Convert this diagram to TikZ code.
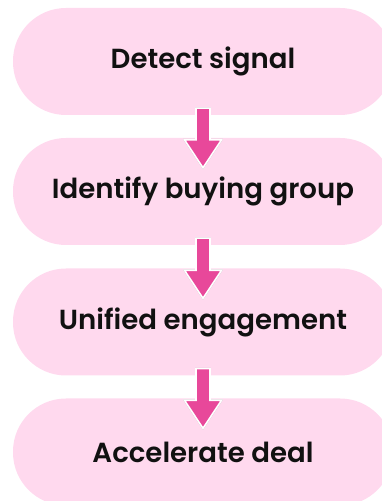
\documentclass[tikz,border=0pt]{standalone}
\usepackage{fontspec}
\newfontfamily\labelfont{Poppins}[UprightFont=* SemiBold]
\usetikzlibrary{calc}
\definecolor{stagefill}{HTML}{FFD9EE}
\definecolor{arrowpink}{HTML}{E8489A}
\definecolor{labelink}{HTML}{111111}
\tikzset{
  stage/.style={fill=stagefill, rounded corners=53pt, minimum width=380pt,
    minimum height=107pt, inner sep=0pt, font=\labelfont\fontsize{27.6}{31}\selectfont,
    text=labelink},
}
% block arrow from point #1 (top of shaft) to #2 (tip), with a grey shadow
\newcommand\blockarrow[2]{%
  \path let \p1=(#1), \p2=(#2) in
    coordinate (ta) at (\x1,\y1) coordinate (tb) at (\x2,\y2);
  \foreach \sx/\sy/\col/\lw in {-2/-1.8/black!32/1.6pt, 0/0/arrowpink/0pt}{
    \begin{scope}[shift={(\sx pt,\sy pt)}]
      \filldraw[fill=\col, draw=\ifdim\lw>0pt \col\else white\fi, line width=1.6pt, line join=miter]
        ($(ta)+(-7pt,0)$) -- ($(ta)+(7pt,0)$) -- ($(tb)+(7pt,28pt)$) -- ($(tb)+(18.5pt,28pt)$)
        -- (tb) -- ($(tb)+(-18.5pt,28pt)$) -- ($(tb)+(-7pt,28pt)$) -- cycle;
    \end{scope}}%
}
\begin{document}
\begin{tikzpicture}[x=1pt,y=1pt]
\useasboundingbox (0,0) rectangle (381,501);
\node[stage] (s1) at (203,439.5) {Detect signal};
\node[stage] (s2) at (203,309.5) {Identify buying group};
\node[stage] (s3) at (203,179) {Unified engagement};
\node[stage] (s4) at (203,49) {Accelerate deal};
\blockarrow{$(s1.south)+(0,7pt)$}{$(s2.north)+(0,-30pt)$}
\blockarrow{$(s2.south)+(0,7pt)$}{$(s3.north)+(0,-30pt)$}
\blockarrow{$(s3.south)+(0,7pt)$}{$(s4.north)+(0,-30pt)$}
\end{tikzpicture}
\end{document}
